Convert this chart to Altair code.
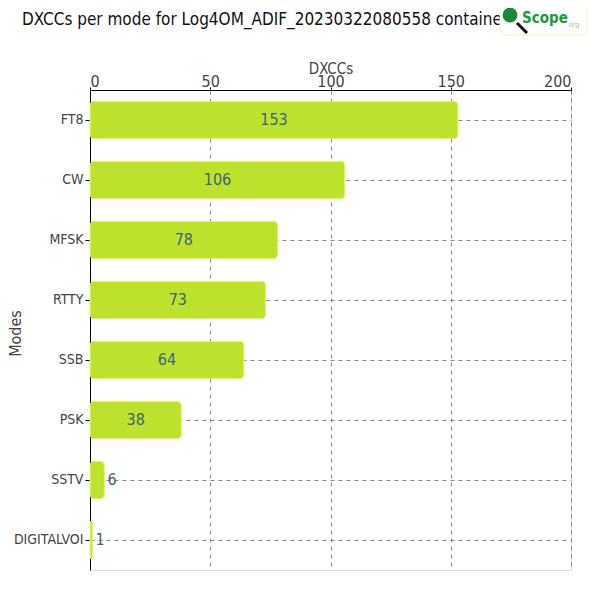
import altair as alt
import pandas as pd

modes = ["FT8", "CW", "MFSK", "RTTY", "SSB", "PSK", "SSTV", "DIGITALVOI"]
dxccs = [153, 106, 78, 73, 64, 38, 6, 1]
x_ticks = [0, 50, 100, 150, 200]
title_text = "DXCCs per mode for Log4OM_ADIF_20230322080558 containe"

FONT = "DejaVu Sans Condensed, sans-serif"
df = pd.DataFrame({"mode": modes, "dxcc": dxccs})

xenc = alt.X("dxcc:Q", scale=alt.Scale(domain=[0, 200], nice=False),
             axis=alt.Axis(orient="top", values=x_ticks, title="DXCCs",
                           grid=True, gridDash=[4, 4], gridColor="#888",
                           domainColor="#000", tickColor="#000", tickSize=3,
                           labelColor="#444", labelFontSize=16, labelFont=FONT,
                           labelPadding=-2, titleFont=FONT, titleFontSize=15,
                           titleColor="#444", titleFontWeight="normal", titlePadding=-3))
yenc = alt.Y("mode:N", sort=modes,
             scale=alt.Scale(paddingInner=0.38, paddingOuter=0.19),
             axis=alt.Axis(title="Modes", grid=True, gridDash=[4, 4], gridColor="#888",
                           domainColor="#000", tickColor="#000", tickSize=5,
                           labelColor="#444", labelFontSize=14, labelFont=FONT,
                           labelPadding=2, titleFont=FONT, titleFontSize=16,
                           titleColor="#444", titleFontWeight="normal",
                           titleX=-70, titleY=243, titleAngle=-90,
                           titleBaseline="alphabetic"))

base = alt.Chart(df)
bars = base.mark_bar(color="#bde22e", stroke="#e2f56a", strokeWidth=1,
                     cornerRadius=4).encode(x=xenc, y=yenc)

inside = base.transform_filter("datum.dxcc > 20").transform_calculate(
    pos="datum.dxcc / 2").mark_text(font=FONT, fontSize=16, color="#40637a",
                                    align="center", baseline="middle").encode(
    x=alt.X("pos:Q"), y=alt.Y("mode:N", sort=modes), text="dxcc:Q")
outside = base.transform_filter("datum.dxcc <= 20").mark_text(
    font=FONT, fontSize=16, color="#40637a", align="left", baseline="middle",
    dx=3).encode(x=alt.X("dxcc:Q"), y=alt.Y("mode:N", sort=modes), text="dxcc:Q")

title = alt.Chart(pd.DataFrame({"t": [title_text]})).mark_text(
    font=FONT, fontSize=17, color="#111", align="left", baseline="middle").encode(
    text="t:N", x=alt.value(-68), y=alt.value(-70))

logo_box = alt.Chart(pd.DataFrame({"t": [0]})).mark_rect(
    fill="white", stroke="#eef5c0", strokeWidth=1, cornerRadius=4).encode(
    x=alt.value(410), x2=alt.value(497), y=alt.value(-86), y2=alt.value(-55))
logo_handle = alt.Chart(pd.DataFrame({"t": [0]})).mark_rule(
    color="#111", strokeWidth=3).encode(
    x=alt.value(427), x2=alt.value(437), y=alt.value(-67), y2=alt.value(-57))
logo_circle = alt.Chart(pd.DataFrame({"t": [0]})).mark_point(
    shape="circle", filled=True, color="#1a8a3a", size=220, opacity=1).encode(
    x=alt.value(420), y=alt.value(-75))
logo_text = alt.Chart(pd.DataFrame({"t": ["Scope"]})).mark_text(
    font=FONT, fontSize=15, fontWeight="bold", color="#1a9a3a", align="left",
    baseline="middle").encode(text="t:N", x=alt.value(432), y=alt.value(-72))
logo_org = alt.Chart(pd.DataFrame({"t": [".org"]})).mark_text(
    font=FONT, fontSize=7, color="#9c9", align="left",
    baseline="middle").encode(text="t:N", x=alt.value(477), y=alt.value(-65))

chart = alt.layer(bars, inside, outside, title, logo_box, logo_circle, logo_handle,
                  logo_text, logo_org).properties(
    width=481, height=480,
    autosize=alt.AutoSizeParams(type="none"),
    padding={"left": 82, "top": 82, "right": 21, "bottom": 22},
).configure_view(stroke=None).configure(background="white")

chart.save("out.html", embed_options={"renderer": "svg", "actions": False})
